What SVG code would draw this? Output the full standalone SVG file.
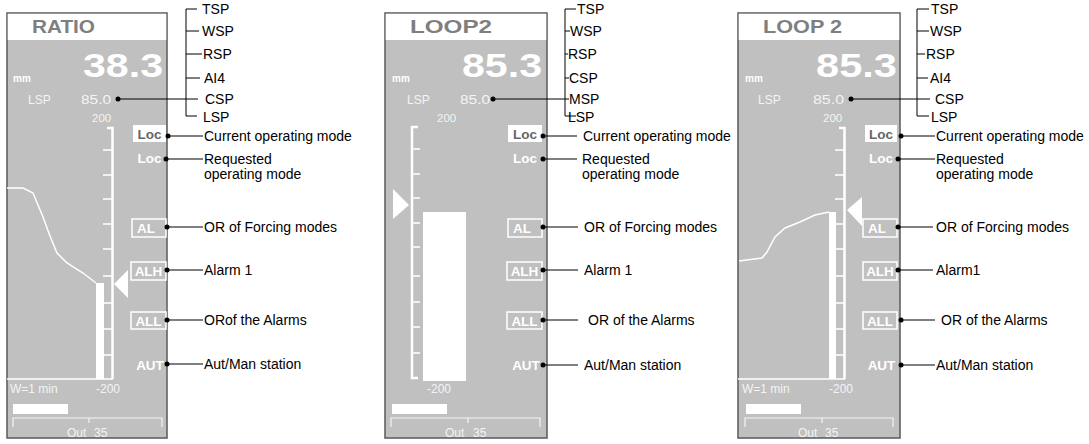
<svg xmlns="http://www.w3.org/2000/svg" width="1089" height="444" viewBox="0 0 1089 444">
<style>
.panel{fill:#c0c0c0;stroke:#5a5a5a;stroke-width:1.5}
.title{font-family:"Liberation Sans",Arial,sans-serif;font-weight:bold;font-size:19px;fill:#7f7f7f}
.big{font-family:"Liberation Sans",Arial,sans-serif;font-weight:bold;font-size:34px;fill:#ffffff}
.mm{font-family:"Liberation Sans",Arial,sans-serif;font-weight:bold;font-size:10px;fill:#ffffff}
.lt{font-family:"Liberation Sans",Arial,sans-serif;font-size:12px;fill:#f4f4f4}
.sm{font-family:"Liberation Sans",Arial,sans-serif;font-size:11.5px;fill:#f4f4f4}
.md{font-family:"Liberation Sans",Arial,sans-serif;font-weight:bold;font-size:13.5px;fill:#ffffff}
.mdd{font-family:"Liberation Sans",Arial,sans-serif;font-weight:bold;font-size:13.5px;fill:#666666}
.box{fill:none;stroke:#ffffff;stroke-width:1.5}
.wbox{fill:#ffffff}
.wl{fill:none;stroke:#ffffff;stroke-width:1.5}
.sc{fill:none;stroke:#ffffff;stroke-width:2.5}
.br{fill:none;stroke:#f4f4f4;stroke-width:1.2}
.lab{font-family:"Liberation Sans",Arial,sans-serif;font-size:14px;fill:#000000}
.cn{fill:none;stroke:#000000;stroke-width:1}
.dot{fill:#000000}
</style>

<g id="panel-ratio">
<rect class="panel" x="7" y="13" width="160" height="425"/>
<rect x="7.75" y="13.75" width="158.5" height="26.25" fill="#ffffff"/>
<text class="title" x="32" y="33" textLength="63" lengthAdjust="spacingAndGlyphs">RATIO</text>
<text class="mm" x="13" y="82">mm</text>
<text class="big" x="83" y="77" textLength="80" lengthAdjust="spacingAndGlyphs">38.3</text>
<text class="lt" x="28" y="104">LSP</text>
<text class="lt" x="81" y="104" textLength="30" lengthAdjust="spacingAndGlyphs">85.0</text>
<text class="sm" x="92" y="122">200</text>
<rect class="wbox" x="133" y="125" width="33" height="17"/>
<text class="mdd" x="149.5" y="139" text-anchor="middle">Loc</text>
<text class="md" x="149.5" y="163" text-anchor="middle">Loc</text>
<rect class="box" x="132" y="219" width="34" height="18"/>
<text class="md" x="146" y="233" text-anchor="middle">AL</text>
<rect class="box" x="131" y="262" width="35" height="18"/>
<text class="md" x="148.5" y="276" text-anchor="middle">ALH</text>
<rect class="box" x="131" y="312" width="35" height="17"/>
<text class="md" x="148.5" y="326" text-anchor="middle">ALL</text>
<text class="md" x="150" y="370" text-anchor="middle">AUT</text>
<path class="sc" d="M107,128 H112.5 V379"/>
<path class="wl" d="M103,150 H112 M103,175 H112 M103,199 H112 M103,224 H112 M103,249 H112 M103,276 H112 M103,303 H112 M103,329 H112 M103,355 H112 M7,379 H113"/>
<rect class="wbox" x="96" y="283" width="8" height="96"/>
<polyline class="wl" points="7,188 23,188 33,193 43,217 50,236 57,253 67,263 83,273 96,283"/>
<polygon class="wbox" points="114,284 128,270 128,298"/>
<text class="lt" x="10" y="393">W=1 min</text>
<text class="lt" x="96" y="393">-200</text>
<rect class="wbox" x="13" y="404" width="55" height="10"/>
<path class="br" d="M13,427 V418 H162 V427 M89,418 V423"/>
<text class="lt" x="67" y="437">Out</text>
<text class="lt" x="94" y="437">35</text>
</g>

<g id="panel-loop2a">
<rect class="panel" x="385" y="13" width="162" height="425"/>
<rect x="385.75" y="13.75" width="160.5" height="26.25" fill="#ffffff"/>
<text class="title" x="410" y="33" textLength="82" lengthAdjust="spacingAndGlyphs">LOOP2</text>
<text class="mm" x="392" y="82">mm</text>
<text class="big" x="462" y="77" textLength="80" lengthAdjust="spacingAndGlyphs">85.3</text>
<text class="lt" x="407" y="104">LSP</text>
<text class="lt" x="460" y="104" textLength="30" lengthAdjust="spacingAndGlyphs">85.0</text>
<text class="sm" x="437" y="122">200</text>
<rect class="wbox" x="508" y="125" width="34" height="17"/>
<text class="mdd" x="525" y="139" text-anchor="middle">Loc</text>
<text class="md" x="525" y="163" text-anchor="middle">Loc</text>
<rect class="box" x="508" y="219" width="34" height="18"/>
<text class="md" x="522" y="233" text-anchor="middle">AL</text>
<rect class="box" x="507" y="262" width="35" height="18"/>
<text class="md" x="524.5" y="276" text-anchor="middle">ALH</text>
<rect class="box" x="507" y="312" width="35" height="17"/>
<text class="md" x="524.5" y="326" text-anchor="middle">ALL</text>
<text class="md" x="526" y="370" text-anchor="middle">AUT</text>
<path class="sc" d="M418,127 H412 V378 H418"/>
<path class="wl" d="M412,149 H420 M412,174 H420 M412,198 H420 M412,223 H420 M412,247 H420 M412,276 H420 M412,302 H420 M412,327 H420 M412,353 H420"/>
<rect class="wbox" x="423" y="212" width="43" height="169"/>
<polygon class="wbox" points="393,189 393,219 409,205"/>
<text class="lt" x="427" y="393">-200</text>
<rect class="wbox" x="392" y="404" width="55" height="10"/>
<path class="br" d="M391,427 V418 H540 V427 M468,418 V423"/>
<text class="lt" x="445" y="437">Out</text>
<text class="lt" x="473" y="437">35</text>
</g>

<g id="panel-loop2b">
<rect class="panel" x="738" y="13" width="162" height="425"/>
<rect x="738.75" y="13.75" width="160.5" height="26.25" fill="#ffffff"/>
<text class="title" x="763" y="33" textLength="79" lengthAdjust="spacingAndGlyphs">LOOP 2</text>
<text class="mm" x="745" y="82">mm</text>
<text class="big" x="816" y="77" textLength="81" lengthAdjust="spacingAndGlyphs">85.3</text>
<text class="lt" x="758" y="104">LSP</text>
<text class="lt" x="813" y="104" textLength="31" lengthAdjust="spacingAndGlyphs">85.0</text>
<text class="sm" x="823" y="122">200</text>
<rect class="wbox" x="865" y="125" width="32" height="17"/>
<text class="mdd" x="881" y="139" text-anchor="middle">Loc</text>
<text class="md" x="881" y="163" text-anchor="middle">Loc</text>
<rect class="box" x="863" y="219" width="34" height="18"/>
<text class="md" x="877" y="233" text-anchor="middle">AL</text>
<rect class="box" x="863" y="262" width="34" height="18"/>
<text class="md" x="880" y="276" text-anchor="middle">ALH</text>
<rect class="box" x="863" y="312" width="34" height="17"/>
<text class="md" x="880" y="326" text-anchor="middle">ALL</text>
<text class="md" x="881.5" y="370" text-anchor="middle">AUT</text>
<path class="sc" d="M839,128 H844.5 V379"/>
<path class="wl" d="M835,150 H844 M835,175 H844 M835,199 H844 M835,224 H844 M835,249 H844 M835,276 H844 M835,303 H844 M835,329 H844 M835,355 H844 M738,379 H845"/>
<rect class="wbox" x="829" y="212" width="7" height="167"/>
<polyline class="wl" points="739,261 762,258 767,252 775,237 785,228 800,222 815,215 829,212"/>
<polygon class="wbox" points="847,210 862,197 862,226"/>
<text class="lt" x="742" y="393">W=1 min</text>
<text class="lt" x="829" y="393">-200</text>
<rect class="wbox" x="746" y="404" width="55" height="10"/>
<path class="br" d="M745,427 V418 H893 V427 M822,418 V423"/>
<text class="lt" x="798" y="437">Out</text>
<text class="lt" x="825" y="437">35</text>
</g>

<g id="connectors">
<path class="cn" d="M197,9 H186 V116 H197 M186,31 H199 M186,54 H202 M186,78 H200 M118,99 H198"/>
<path class="cn" d="M168,136 H203 M166,159 H203 M167,227 H203 M167,270 H203 M167,320 H203 M167,364 H203"/>
<path class="cn" d="M576,9 H565 V116 H576 M565,31 H570 M565,54 H568 M565,78 H569 M493,99 H569"/>
<path class="cn" d="M543,136 H577 M543,159 H577 M543,227 H578 M543,270 H578 M543,320 H578 M543,365 H578"/>
<path class="cn" d="M929,9 H917 V116 H929 M917,31 H929 M917,54 H925 M917,78 H928 M851,99 H930"/>
<path class="cn" d="M901,136 H935 M898,159 H935 M898,227 H933 M898,270 H933 M901,320 H935 M901,365 H935"/>
<circle class="dot" cx="118" cy="99" r="2.5"/><circle class="dot" cx="168" cy="136" r="2.5"/><circle class="dot" cx="166" cy="159" r="2.5"/><circle class="dot" cx="167" cy="227" r="2.5"/><circle class="dot" cx="167" cy="270" r="2.5"/><circle class="dot" cx="167" cy="320" r="2.5"/><circle class="dot" cx="167" cy="364" r="2.5"/>
<circle class="dot" cx="493" cy="99" r="2.5"/><circle class="dot" cx="543" cy="136" r="2.5"/><circle class="dot" cx="543" cy="159" r="2.5"/><circle class="dot" cx="543" cy="227" r="2.5"/><circle class="dot" cx="543" cy="270" r="2.5"/><circle class="dot" cx="543" cy="320" r="2.5"/><circle class="dot" cx="543" cy="365" r="2.5"/>
<circle class="dot" cx="851" cy="99" r="2.5"/><circle class="dot" cx="901" cy="136" r="2.5"/><circle class="dot" cx="898" cy="159" r="2.5"/><circle class="dot" cx="898" cy="227" r="2.5"/><circle class="dot" cx="898" cy="270" r="2.5"/><circle class="dot" cx="901" cy="320" r="2.5"/><circle class="dot" cx="901" cy="365" r="2.5"/>
</g>

<g id="labels-ratio">
<text class="lab" x="202" y="14">TSP</text>
<text class="lab" x="202" y="36">WSP</text>
<text class="lab" x="203" y="59">RSP</text>
<text class="lab" x="204" y="83">AI4</text>
<text class="lab" x="205" y="104">CSP</text>
<text class="lab" x="203" y="122">LSP</text>
<text class="lab" x="204" y="141">Current operating mode</text>
<text class="lab" x="204" y="164">Requested</text>
<text class="lab" x="204" y="179">operating mode</text>
<text class="lab" x="204" y="232">OR of Forcing modes</text>
<text class="lab" x="204" y="275">Alarm 1</text>
<text class="lab" x="204" y="325">ORof the Alarms</text>
<text class="lab" x="204" y="369">Aut/Man station</text>
</g>

<g id="labels-loop2a">
<text class="lab" x="577" y="14">TSP</text>
<text class="lab" x="570" y="36">WSP</text>
<text class="lab" x="568" y="59">RSP</text>
<text class="lab" x="569" y="83">CSP</text>
<text class="lab" x="569" y="104">MSP</text>
<text class="lab" x="568" y="122">LSP</text>
<text class="lab" x="583" y="141">Current operating mode</text>
<text class="lab" x="582" y="164">Requested</text>
<text class="lab" x="582" y="179">operating mode</text>
<text class="lab" x="584" y="232">OR of Forcing modes</text>
<text class="lab" x="584" y="275">Alarm 1</text>
<text class="lab" x="588" y="325">OR of the Alarms</text>
<text class="lab" x="584" y="370">Aut/Man station</text>
</g>

<g id="labels-loop2b">
<text class="lab" x="931" y="14">TSP</text>
<text class="lab" x="930" y="36">WSP</text>
<text class="lab" x="926" y="59">RSP</text>
<text class="lab" x="930" y="83">AI4</text>
<text class="lab" x="935" y="104">CSP</text>
<text class="lab" x="931" y="122">LSP</text>
<text class="lab" x="936" y="141">Current operating mode</text>
<text class="lab" x="936" y="164">Requested</text>
<text class="lab" x="936" y="179">operating mode</text>
<text class="lab" x="936" y="232">OR of Forcing modes</text>
<text class="lab" x="936" y="275">Alarm1</text>
<text class="lab" x="941" y="325">OR of the Alarms</text>
<text class="lab" x="936" y="370">Aut/Man station</text>
</g>
</svg>
